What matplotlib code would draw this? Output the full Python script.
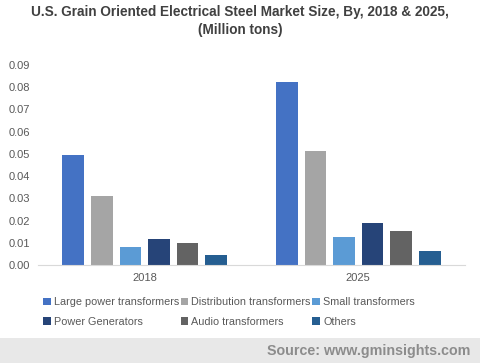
import matplotlib
matplotlib.use("Agg")
import matplotlib.pyplot as plt
import numpy as np
from matplotlib.patches import Rectangle

plt.rcParams['font.family'] = ['Liberation Sans', 'DejaVu Sans']

years = ["2018", "2025"]
series = ["Large power transformers", "Distribution transformers", "Small transformers",
          "Power Generators", "Audio transformers", "Others"]
large = [0.0495, 0.0823]
distribution = [0.0310, 0.0513]
small = [0.0081, 0.0126]
power_gen = [0.0117, 0.0189]
audio = [0.0099, 0.0153]
others = [0.0045, 0.0063]
values = [large, distribution, small, power_gen, audio, others]
colors = ["#4472C4", "#A5A5A5", "#5B9BD5", "#264478", "#636363", "#255E91"]
yticks = [0.00, 0.01, 0.02, 0.03, 0.04, 0.05, 0.06, 0.07, 0.08, 0.09]

W, H = 480, 363
fig = plt.figure(figsize=(W / 100, H / 100), dpi=100)
ax = fig.add_axes([38 / W, 98 / H, 427 / W, 200 / H])

x = np.arange(len(years))
slot = 0.1335
bw = 0.103
for i, (name, vals, c) in enumerate(zip(series, values, colors)):
    ax.bar(x + (i - 2.5) * slot, vals, width=bw, color=c, label=name)

ax.set_xlim(-0.5, 1.5)
ax.set_ylim(0, 0.09)
ax.set_yticks(yticks)
ax.set_yticklabels([f"{t:.2f}" for t in yticks])
ax.set_xticks(x)
ax.set_xticklabels(years)
for s in ["top", "right", "left"]:
    ax.spines[s].set_visible(False)
ax.spines["bottom"].set_color("#D9D9D9")
ax.tick_params(axis="both", length=0, labelsize=8, labelcolor="#595959")
ax.tick_params(axis="y", pad=6)
ax.tick_params(axis="x", pad=6)

fig.text(0.5, 1 - 12 / H, "U.S. Grain Oriented Electrical Steel Market Size, By, 2018 & 2025,",
         ha="center", va="center", fontsize=9.8, fontweight="bold", color="#404040")
fig.text(0.5, 1 - 30 / H, "(Million tons)",
         ha="center", va="center", fontsize=9.8, fontweight="bold", color="#404040")

handles, labels = ax.get_legend_handles_labels()
order = [0, 3, 1, 4, 2, 5]
leg = fig.legend([handles[k] for k in order], [labels[k] for k in order],
                 loc="center", bbox_to_anchor=(229 / W, 1 - 312 / H),
                 ncol=3, frameon=False, fontsize=7.8, handlelength=0.7, handleheight=0.7,
                 handletextpad=0.3, columnspacing=0.15, labelspacing=0.85)
for t in leg.get_texts():
    t.set_color("#595959")

fig.patches.append(Rectangle((0, 0), 1, 25 / H, transform=fig.transFigure,
                             facecolor="#E8E8E8", edgecolor="none", zorder=0))
fig.text(470 / W, 12 / H, "Source: www.gminsights.com", ha="right", va="center",
         fontsize=10.3, fontweight="bold", color="#8C8C8C")

fig.savefig("out.png", dpi=100)
